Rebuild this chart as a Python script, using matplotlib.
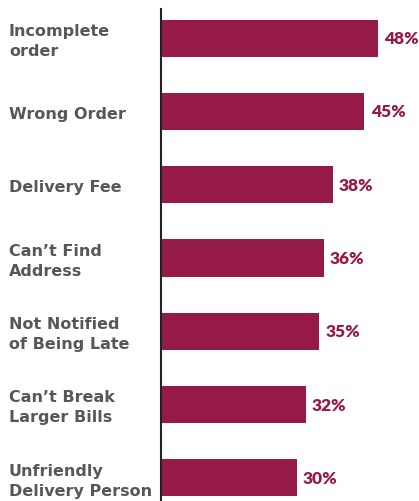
import matplotlib.pyplot as plt
from matplotlib.transforms import blended_transform_factory

categories = ["Incomplete\norder", "Wrong Order", "Delivery Fee", "Can\u2019t Find\nAddress",
              "Not Notified\nof Being Late", "Can\u2019t Break\nLarger Bills",
              "Unfriendly\nDelivery Person"]
values = [48, 45, 38, 36, 35, 32, 30]
value_labels = ["48%", "45%", "38%", "36%", "35%", "32%", "30%"]

bar_color = "#961a48"
text_color = "#555759"

plt.rcParams['font.family'] = ['DejaVu Sans']

fig = plt.figure(figsize=(4.19, 5.02), dpi=100)
ax = fig.add_axes([161 / 419, 0, 1 - 161 / 419, 492 / 502])

pos = list(range(len(values)))
ax.barh(pos, values, height=0.505, color=bar_color)
ax.set_ylim(6.314, -0.396)
ax.set_xlim(0, 57.1)

for p, v, lab in zip(pos, values, value_labels):
    ax.text(v + 1.4, p, lab, va="center", ha="left", fontsize=12.5,
            fontweight="heavy", color=bar_color, family=['Lato', 'DejaVu Sans'])

trans = blended_transform_factory(fig.transFigure, ax.transData)
for p, cat in zip(pos, categories):
    ax.text(9 / 419, p + 0.03, cat, transform=trans, va="center", ha="left",
            fontsize=11.5, fontweight="bold", color=text_color, linespacing=1.4)

for s in ["top", "right", "bottom"]:
    ax.spines[s].set_visible(False)
ax.spines["left"].set_color("#222222")
ax.spines["left"].set_linewidth(1.5)
ax.set_xticks([])
ax.set_yticks([])

fig.savefig("out.png", dpi=100)
